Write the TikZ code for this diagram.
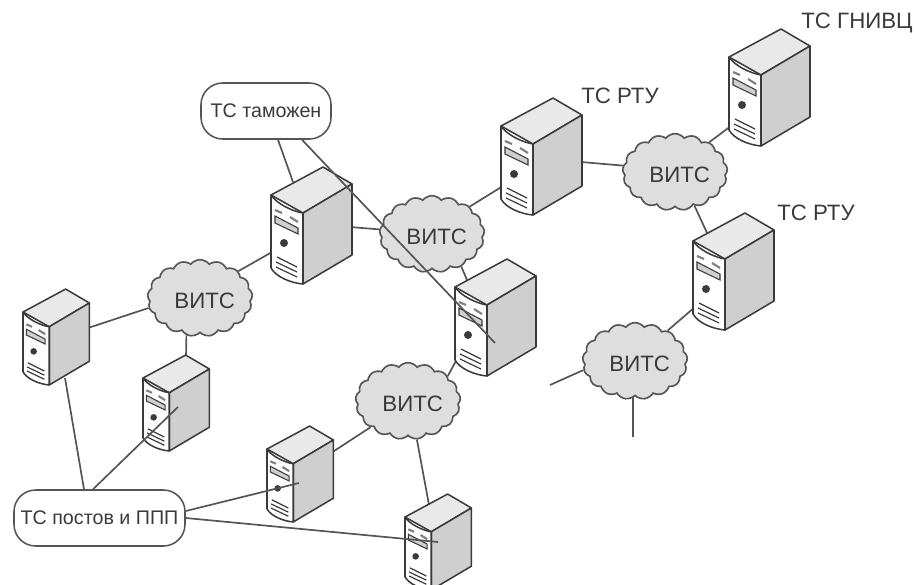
\documentclass[tikz,border=0pt]{standalone}
\usepackage{xcolor}
\usepackage{fontspec}
\setmainfont{Liberation Sans}
\usepackage{tikz}
\usetikzlibrary{shapes.symbols, backgrounds}

\definecolor{inkgray}{HTML}{3A3A3A}
\definecolor{linegray}{HTML}{555555}
\definecolor{cloudgray}{HTML}{DEDEDE}
\definecolor{sidegray}{HTML}{CFCFCF}
\definecolor{topgray}{HTML}{E9E9E9}

\tikzset{
  vits/.style={shape=cloud,draw=linegray,fill=cloudgray,line width=1.4pt,cloud puffs=17,cloud puff arc=105,
    cloud ignores aspect,minimum width=3.15cm,minimum height=2.3cm,inner sep=0pt,text=inkgray,
    text height=18pt,text depth=0pt,font=\fontsize{19}{22}\selectfont},
  tsbox/.style={shape=rectangle,draw=linegray,fill=white,rounded corners=0.65cm,line width=1.3pt,inner sep=0pt,text=inkgray,font=\fontsize{16.8}{20}\selectfont},
  tslabel/.style={text=inkgray,inner sep=0pt,font=\fontsize{19}{22}\selectfont},
  link/.style={draw=linegray,line width=1.45pt},
  server/.pic={
    \draw[draw=inkgray,fill=topgray,line width=1.3pt,line join=round] (0,0) -- (52,-28) -- (81,-11) -- (32,18) -- cycle;
    \draw[draw=inkgray,fill=sidegray,line width=1.3pt,line join=round] (32,18) -- (81,-11) -- (81,60) -- (32,89) -- cycle;
    \draw[draw=inkgray,fill=white,line width=1.3pt,line join=round] (0,0) -- (0,73) .. controls (5,82) and (20,88) .. (32,89) -- (32,18) .. controls (20,16) and (5,8) .. (0,0) -- cycle;
    \draw[draw=gray,line width=1.8pt] (4,15) -- (11,18) (19,22) -- (27,27);
    \draw[draw=inkgray,fill=sidegray,line width=.9pt] (4,21) -- (27,33) -- (27,39) -- (4,28) -- cycle;
    \fill[inkgray] (13,48) circle[radius=4];
    \draw[draw=inkgray,line width=1pt] (6,62) -- (26,72) (5,67) -- (26,77) (5,72) -- (26,82);
  }
}

\begin{document}
\begin{tikzpicture}[x=0.03cm,y=-0.03cm]

\useasboundingbox (0,0) rectangle (915,585);

\pic at (271,195) {server};
\pic at (455,287) {server};
\pic at (501,126) {server};
\pic at (729,57) {server};
\pic at (693,241) {server};
\pic[scale=.82] at (23,312) {server};
\pic[scale=.82] at (143,378) {server};
\pic[scale=.82] at (267,449) {server};
\pic[scale=.82] at (405,517) {server};

\node (vitsL) [vits] at (200,298) {\hspace{8pt}ВИТС};
\node (vitsC) [vits] at (432,234) {\hspace{8pt}ВИТС};
\node (vitsT) [vits] at (675,172) {\hspace{8pt}ВИТС};
\node (vitsR) [vits] at (635,361) {\hspace{8pt}ВИТС};
\node (vitsB) [vits] at (408,401) {\hspace{8pt}ВИТС};

\node (tsCustoms) [tsbox,minimum width=3.9cm,minimum height=1.68cm] at (266,111) {ТС таможен};
\node (tsPosts) [tsbox,minimum width=5.13cm,minimum height=1.68cm] at (99.5,518) {ТС постов и ППП};

\node (lblMain) [tslabel] at (857,23) {ТС ГНИВЦ};
\node (lblRtuA) [tslabel] at (620,96) {ТС РТУ};
\node (lblRtuB) [tslabel] at (816,213) {ТС РТУ};

\coordinate (srvA-top) at (293,182);
\coordinate (srvA-east) at (350,227);
\coordinate (srvA-west) at (272,252);
\coordinate (srvB-north) at (467,280);
\coordinate (srvB-west) at (457,359);
\coordinate (srvB-in) at (495,343);
\coordinate (srvC-west) at (503,186);
\coordinate (srvC-east) at (581,162);
\coordinate (srvD-west) at (731,126);
\coordinate (srvE-north) at (708,235);
\coordinate (srvE-west) at (695,307);
\coordinate (srvF-east) at (88,328);
\coordinate (srvF-south) at (65,378);
\coordinate (srvG-north) at (186,358);
\coordinate (srvG-in) at (178,407);
\coordinate (srvH-east) at (331,453);
\coordinate (srvH-in) at (299,483);
\coordinate (srvI-north) at (429,505);
\coordinate (srvI-in) at (438,542);
\coordinate (stubW) at (550,385);
\coordinate (stubS) at (633,437);

\begin{scope}[on background layer]
\draw[link] (tsCustoms.south -| 278,0) -- (srvA-top);
\draw[link] (vitsC.175) -- (srvA-east);
\draw[link] (vitsL.35) -- (srvA-west);
\draw[link] (vitsC.36) -- (srvC-west);
\draw[link] (vitsC.312) -- (srvB-north);
\draw[link] (vitsT.173) -- (srvC-east);
\draw[link] (vitsT.41) -- (srvD-west);
\draw[link] (vitsT.300) -- (srvE-north);
\draw[link] (vitsR.43) -- (srvE-west);
\draw[link] (vitsR.190) -- (stubW);
\draw[link] (vitsR.south -| stubS) -- (stubS);
\draw[link] (vitsL.191) -- (srvF-east);
\draw[link] (vitsL.250) -- (srvG-north);
\draw[link] (tsPosts.north -| 84,0) -- (srvF-south);
\draw[link] (vitsB.215) -- (srvH-east);
\draw[link] (vitsB.32) -- (srvB-west);
\draw[link] (vitsB.283) -- (srvI-north);
\end{scope}

\draw[link] (tsCustoms.south -| 302,0) -- (srvB-in);
\draw[link] (tsPosts.north -| 93,0) -- (srvG-in);
\draw[link] (tsPosts.east |- 0,511) -- (srvH-in);
\draw[link] (tsPosts.east |- 0,518) -- (srvI-in);

\end{tikzpicture}
\end{document}
